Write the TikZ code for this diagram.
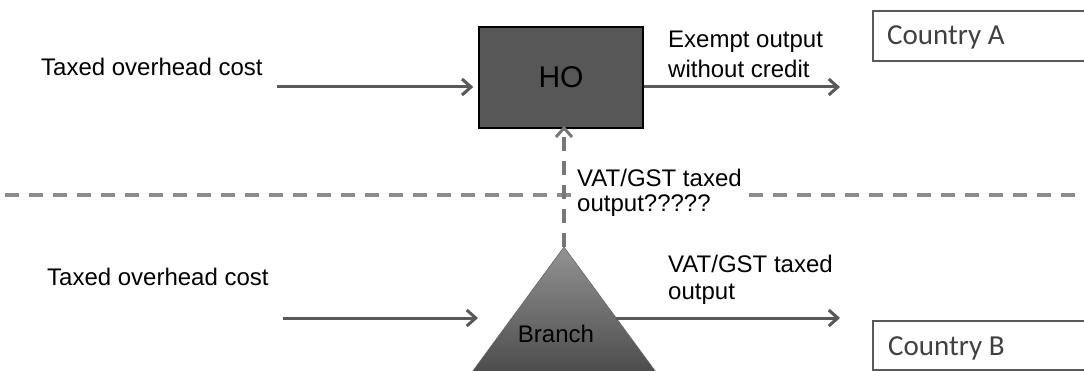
\documentclass[tikz,border=0pt]{standalone}
\usepackage{fontspec}
\setmainfont{Liberation Sans}
\newfontfamily\countryfont{Carlito}
\usetikzlibrary{arrows.meta}
\definecolor{arrowgray}{HTML}{595959}
\definecolor{dashgray}{HTML}{8C8C8C}
\definecolor{hofill}{HTML}{575757}
\definecolor{countrytext}{HTML}{404040}
\definecolor{branchtop}{HTML}{939393}
\definecolor{branchbottom}{HTML}{464646}
\tikzset{
  flow/.style={draw=arrowgray, line width=3pt,
    -{Straight Barb[length=9pt,width=16pt,line width=3pt]}},
  border/.style={draw=dashgray, line width=4pt, dash pattern=on 14pt off 10pt},
  crossflow/.style={draw=dashgray!85!black, line width=3.5pt, dash pattern=on 14pt off 10pt,
    -{Straight Barb[length=9pt,width=16pt,line width=3pt]}},
  label/.style={font=\fontsize{24}{28}\selectfont, inner sep=0pt, align=left, anchor=base west},
  countrybox/.style={draw=arrowgray, line width=1.5pt, fill=white},
  countrylabel/.style={font=\countryfont\fontsize{29}{34}\selectfont, text=countrytext,
    inner sep=0pt, anchor=base west}
}
\begin{document}
\begin{tikzpicture}[x=1pt,y=-1pt]
  \useasboundingbox (0,0) rectangle (1084,371);
  \fill[white] (0,0) rectangle (1084,371);

  % frontier between the two countries
  \coordinate (borderL) at (5,195);
  \coordinate (borderR) at (1090,195);
  \draw[border] (borderL) -- (borderR);

  % head office
  \node[draw=black, line width=1.5pt, fill=hofill, minimum width=164pt, minimum height=101pt,
        inner sep=0pt, font=\fontsize{30}{34}\selectfont] (HO) at (561,77.5) {HO};

  % branch
  \coordinate (apex) at (564,247);
  \coordinate (baseL) at (464,383);
  \coordinate (baseR) at (664,383);
  \shade[top color=branchtop, bottom color=branchbottom, draw=gray!80!black, line width=0.6pt]
    (apex) -- (baseR) -- (baseL) -- cycle;
  \node[inner sep=0pt, font=\fontsize{24}{28}\selectfont, anchor=base] (branch) at (556,342) {Branch};

  % country boxes
  \draw[countrybox] (873,11) rectangle (1095,61);
  \node[countrylabel] (ctyA) at (887,45) {Country A};
  \draw[countrybox] (873,321) rectangle (1095,370);
  \node[countrylabel] (ctyB) at (888,355) {Country B};

  % head office flows
  \node[label] (inA) at (41,76) {Taxed overhead cost};
  \coordinate (inAstart) at (277,87);
  \draw[flow] (inAstart) -- ([xshift=-5pt]HO.west |- inAstart);
  \node[label, font=\fontsize{24}{30}\selectfont] (outA) at (668,78) {Exempt output\\without credit};
  \coordinate (outAend) at (840,87);
  \draw[flow] (HO.east |- outAend) -- (outAend);

  % branch flows
  \node[label] (inB) at (47,286) {Taxed overhead cost};
  \coordinate (inBstart) at (283,318);
  \coordinate (inBend) at (478,318);
  \draw[flow] (inBstart) -- (inBend);
  \node[label] (outB) at (668,300) {VAT/GST taxed\\output};
  \coordinate (outBstart) at (616,318);
  \coordinate (outBend) at (840,318);
  \draw[flow] (outBstart) -- (outBend);

  % supply from branch to head office
  \draw[crossflow] (apex) -- ([yshift=3pt]HO.south -| apex);
  \node[label, fill=white, font=\fontsize{24}{25}\selectfont] (cross) at (577,212) {VAT/GST taxed\\output?????};
\end{tikzpicture}
\end{document}
